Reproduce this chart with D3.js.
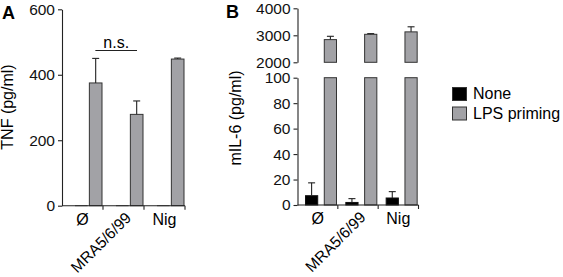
<!DOCTYPE html>
<html>
<head>
<meta charset="utf-8">
<script src="https://cdn.jsdelivr.net/npm/d3@7"></script>
<style>
  body { margin: 0; background: #fff; }
  svg { display: block; font-family: Arial, "Liberation Sans", sans-serif; }
  .axis path, .axis line { stroke: #222; stroke-width: 1.1; }
  .axis text { font-size: 15.5px; fill: #111; }
</style>
</head>
<body>
<svg id="chart" width="563" height="277"></svg>
<script>
const groups = ['Ø', 'MRA5/6/99', 'Nig'];
const series = ['None', 'LPS priming'];
const colors = { 'None': '#000000', 'LPS priming': '#a2a2a6' };

// Panel A: TNF (pg/ml)
const tnfNone = [0, 0, 0];
const tnfLps = [375, 279, 448];
const tnfLpsErr = [450, 320, 451];
const tnfTicks = [0, 200, 400, 600];

// Panel B: mIL-6 (pg/ml), broken axis
const il6None = [7.3, 2, 5.5];
const il6NoneErr = [17.4, 5, 10.5];
const il6Lps = [2840, 3037, 3127];
const il6LpsErr = [2963, 3062, 3315];
const il6LowTicks = [0, 20, 40, 60, 80, 100];
const il6HighTicks = [2000, 3000, 4000];

const svg = d3.select('#chart');

function errBar(g, x, y0, y1) {
  if (Math.abs(y0 - y1) > 0.5) {
    g.append('line').attr('x1', x).attr('x2', x).attr('y1', y0).attr('y2', y1)
      .attr('stroke', '#222').attr('stroke-width', 1.1);
  }
  g.append('line').attr('x1', x - 3.5).attr('x2', x + 3.5).attr('y1', y1).attr('y2', y1)
    .attr('stroke', '#222').attr('stroke-width', 1.1);
}

function xAxis(g, xGroup, y) {
  const [a, b] = xGroup.range();
  g.append('line').attr('x1', a).attr('x2', b).attr('y1', y).attr('y2', y)
    .attr('stroke', '#222').attr('stroke-width', 1.1);
  groups.forEach(grp => {
    const xe = xGroup(grp) + xGroup.bandwidth();
    g.append('line').attr('x1', xe).attr('x2', xe).attr('y1', y).attr('y2', y + 4)
      .attr('stroke', '#222').attr('stroke-width', 1.1);
    const cx = xGroup(grp) + xGroup.bandwidth() / 2;
    if (grp === 'MRA5/6/99') {
      g.append('text').attr('transform', `translate(${cx + 1},${y + 5.5}) rotate(-45)`)
        .attr('text-anchor', 'end').attr('dy', '0.7em')
        .attr('font-size', 15.5).text(grp);
    } else {
      g.append('text').attr('x', cx).attr('y', y + 19)
        .attr('text-anchor', 'middle').attr('font-size', 16).text(grp);
    }
  });
}

// ---------- Panel A ----------
{
  const g = svg.append('g');
  const y = d3.scaleLinear().domain([0, 600]).range([205.7, 9.3]);
  const xGroup = d3.scaleBand().domain(groups).range([62, 185]);
  const xSeries = d3.scaleBand().domain(series).range([13, 40]).paddingInner(0.12);

  g.append('g').attr('class', 'axis').attr('transform', 'translate(62,0)')
    .call(d3.axisLeft(y).tickValues(tnfTicks).tickSize(4).tickPadding(3).tickSizeOuter(0));

  groups.forEach((grp, i) => {
    const gx = xGroup(grp);
    g.append('rect').attr('x', gx + xSeries('None')).attr('y', y(tnfNone[i]) - 0.5)
      .attr('width', xSeries.bandwidth()).attr('height', Math.max(1, y(0) - y(tnfNone[i])))
      .attr('fill', '#555');
    const xl = gx + xSeries('LPS priming');
    g.append('rect').attr('x', xl).attr('y', y(tnfLps[i]))
      .attr('width', xSeries.bandwidth()).attr('height', y(0) - y(tnfLps[i]))
      .attr('fill', colors['LPS priming']).attr('stroke', '#333').attr('stroke-width', 1);
    errBar(g, xl + xSeries.bandwidth() / 2, y(tnfLps[i]), y(tnfLpsErr[i]));
  });

  xAxis(g, xGroup, 205.7);

  // n.s. bracket
  const xa = xGroup('Ø') + xSeries('LPS priming') + 6;
  const xb = xGroup('MRA5/6/99') + xSeries('LPS priming') + xSeries.bandwidth() - 6;
  g.append('line').attr('x1', xa).attr('x2', xb).attr('y1', 50.5).attr('y2', 50.5)
    .attr('stroke', '#222').attr('stroke-width', 1.1);
  g.append('text').attr('x', (xa + xb) / 2).attr('y', 47.5).attr('text-anchor', 'middle')
    .attr('font-size', 16).text('n.s.');

  g.append('text').attr('transform', 'translate(13,107) rotate(-90)')
    .attr('text-anchor', 'middle').attr('font-size', 16).text('TNF (pg/ml)');
  g.append('text').attr('x', 2).attr('y', 19).attr('font-size', 18)
    .attr('font-weight', 'bold').text('A');
}

// ---------- Panel B ----------
{
  const g = svg.append('g');
  const yLow = d3.scaleLinear().domain([0, 100]).range([205, 77.7]);
  const yHigh = d3.scaleLinear().domain([2000, 4000]).range([62.3, 8.3]);
  const xGroup = d3.scaleBand().domain(groups).range([297.5, 418.5]);
  const xSeries = d3.scaleBand().domain(series).range([8, 39]).paddingInner(0.35);

  g.append('g').attr('class', 'axis').attr('transform', 'translate(297.5,0)')
    .call(d3.axisLeft(yLow).tickValues(il6LowTicks).tickFormat(d3.format('d'))
      .tickSize(4).tickPadding(3).tickSizeOuter(0));
  g.append('g').attr('class', 'axis').attr('transform', 'translate(297.5,0)')
    .call(d3.axisLeft(yHigh).tickValues(il6HighTicks).tickFormat(d3.format('d'))
      .tickSize(4).tickPadding(3).tickSizeOuter(0));

  groups.forEach((grp, i) => {
    const gx = xGroup(grp);
    const xn = gx + xSeries('None');
    g.append('rect').attr('x', xn).attr('y', yLow(il6None[i]))
      .attr('width', xSeries.bandwidth()).attr('height', yLow(0) - yLow(il6None[i]))
      .attr('fill', colors['None']).attr('stroke', '#111').attr('stroke-width', 1);
    errBar(g, xn + xSeries.bandwidth() / 2, yLow(il6None[i]), yLow(il6NoneErr[i]));

    const xl = gx + xSeries('LPS priming');
    // lower segment, cut at 100
    g.append('rect').attr('x', xl).attr('y', yLow(100))
      .attr('width', xSeries.bandwidth()).attr('height', yLow(0) - yLow(100))
      .attr('fill', colors['LPS priming']).attr('stroke', '#333').attr('stroke-width', 1);
    // upper segment
    g.append('rect').attr('x', xl).attr('y', yHigh(il6Lps[i]))
      .attr('width', xSeries.bandwidth()).attr('height', yHigh(2000) - yHigh(il6Lps[i]))
      .attr('fill', colors['LPS priming']).attr('stroke', '#333').attr('stroke-width', 1);
    errBar(g, xl + xSeries.bandwidth() / 2, yHigh(il6Lps[i]), yHigh(il6LpsErr[i]));
  });

  xAxis(g, xGroup, 205);

  g.append('text').attr('transform', 'translate(241,118) rotate(-90)')
    .attr('text-anchor', 'middle').attr('font-size', 16).text('mIL-6 (pg/ml)');
  g.append('text').attr('x', 226).attr('y', 18).attr('font-size', 18)
    .attr('font-weight', 'bold').text('B');

  // legend
  const lg = g.append('g').attr('transform', 'translate(452,87)');
  series.forEach((s, i) => {
    lg.append('rect').attr('x', 0.5).attr('y', i * 19.5 + 0.5).attr('width', 14).attr('height', 13)
      .attr('fill', colors[s]).attr('stroke', '#333').attr('stroke-width', 1);
    lg.append('text').attr('x', 21).attr('y', i * 19.5 + 12).attr('font-size', 16).text(s);
  });
}
</script>
</body>
</html>
